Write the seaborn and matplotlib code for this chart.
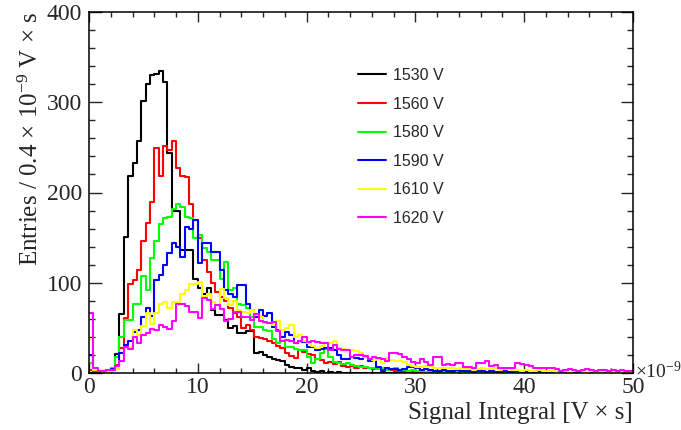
import pandas as pd
import matplotlib
matplotlib.use("Agg")
import matplotlib.pyplot as plt
from matplotlib.lines import Line2D
from matplotlib.ticker import MultipleLocator
import seaborn as sns

# Signal integral histograms for several PMT voltages
# bins of 0.4 (x 1e-9 V s) from 0 to 50
bin_width = 0.4
n_bins = 125

labels = ["1530 V", "1560 V", "1580 V", "1590 V", "1610 V", "1620 V"]
colors = ["#000000", "#ff0000", "#00ff00", "#0000ff", "#ffff00", "#ff00ff"]

counts_1530 = [
    0, 1, 1, 0, 1, 3, 21, 65, 151, 218,
    233, 257, 301, 320, 330, 331, 335, 322, 244, 180,
    180, 136, 136, 136, 104, 94, 88, 94, 70, 64,
    64, 59, 50, 52, 44, 44, 46, 47, 22, 23,
    20, 18, 15, 14, 13, 9, 7, 5, 6, 3,
    5, 2, 1, 2, 0, 1, 0, 1, 0, 0,
    0, 0, 0, 0, 0, 0, 0, 0, 0, 0,
    0, 0, 0, 0, 0, 0, 0, 0, 0, 0,
    0, 0, 0, 0, 0, 0, 0, 0, 0, 0,
    0, 0, 0, 0, 0, 0, 0, 0, 0, 0,
    0, 0, 0, 0, 0, 0, 0, 0, 0, 0,
    0, 0, 0, 0, 0, 0, 0, 0, 0, 0,
    0, 0, 0, 0, 0,
]
counts_1560 = [
    3, 2, 1, 1, 2, 3, 9, 28, 61, 99,
    103, 114, 146, 166, 189, 249, 218, 252, 247, 257,
    227, 218, 217, 187, 170, 150, 125, 112, 100, 90,
    84, 80, 72, 66, 62, 50, 53, 48, 40, 39,
    38, 35, 33, 30, 28, 22, 19, 17, 25, 23,
    21, 20, 15, 14, 11, 12, 10, 12, 8, 7,
    8, 6, 8, 5, 6, 4, 5, 3, 4, 3,
    2, 2, 1, 2, 1, 1, 0, 1, 1, 0,
    1, 0, 0, 1, 0, 0, 0, 0, 1, 0,
    0, 0, 0, 0, 0, 0, 0, 0, 0, 0,
    0, 0, 0, 0, 0, 0, 0, 0, 0, 0,
    0, 0, 0, 0, 0, 0, 0, 0, 0, 0,
    0, 0, 0, 0, 0,
]
counts_1580 = [
    11, 3, 2, 2, 3, 5, 18, 40, 59, 59,
    77, 77, 107, 92, 127, 146, 165, 172, 173, 182,
    187, 184, 173, 172, 150, 153, 139, 134, 125, 125,
    104, 123, 92, 94, 77, 75, 72, 62, 51, 51,
    48, 46, 38, 33, 35, 29, 29, 27, 26, 25,
    18, 11, 15, 22, 27, 18, 12, 11, 10, 11,
    9, 8, 7, 7, 6, 5, 4, 5, 3, 4,
    5, 3, 3, 2, 3, 2, 2, 1, 2, 1,
    2, 1, 1, 2, 1, 1, 1, 0, 1, 1,
    1, 0, 1, 0, 1, 0, 0, 1, 0, 0,
    0, 0, 1, 0, 0, 0, 0, 0, 0, 0,
    0, 0, 0, 0, 0, 0, 0, 0, 0, 0,
    0, 0, 0, 0, 0,
]
counts_1590 = [
    20, 3, 2, 2, 3, 4, 8, 22, 31, 36,
    45, 48, 62, 72, 63, 103, 109, 120, 133, 144,
    140, 129, 162, 160, 169, 122, 144, 144, 134, 134,
    114, 92, 88, 84, 97, 97, 77, 70, 62, 70,
    63, 66, 51, 48, 40, 45, 42, 33, 35, 34,
    29, 29, 26, 27, 28, 28, 25, 20, 15, 15,
    18, 17, 15, 18, 13, 14, 7, 2, 5, 4,
    4, 3, 4, 7, 7, 6, 3, 4, 3, 2,
    2, 3, 2, 2, 3, 2, 2, 2, 1, 2,
    2, 1, 2, 1, 1, 2, 1, 1, 2, 1,
    1, 1, 0, 1, 1, 0, 1, 0, 1, 0,
    1, 0, 0, 1, 0, 0, 1, 0, 0, 0,
    0, 1, 0, 0, 0,
]
counts_1610 = [
    38, 3, 2, 1, 1, 2, 4, 13, 29, 29,
    48, 42, 52, 66, 54, 66, 77, 79, 72, 79,
    79, 88, 92, 99, 99, 101, 84, 88, 79, 75,
    93, 83, 75, 80, 70, 68, 66, 70, 64, 62,
    55, 55, 53, 58, 48, 50, 53, 40, 42, 36,
    33, 30, 28, 30, 33, 33, 35, 28, 27, 26,
    25, 24, 22, 18, 16, 14, 15, 11, 17, 14,
    13, 13, 12, 9, 8, 7, 7, 8, 8, 6,
    5, 5, 5, 5, 4, 5, 4, 4, 3, 4,
    5, 4, 4, 5, 3, 4, 4, 3, 3, 2,
    3, 2, 2, 3, 2, 2, 2, 1, 2, 2,
    1, 2, 2, 1, 1, 2, 1, 1, 2, 1,
    1, 1, 1, 1, 1,
]
counts_1620 = [
    66, 5, 2, 2, 3, 3, 8, 13, 29, 27,
    40, 33, 42, 44, 49, 48, 53, 51, 49, 58,
    77, 77, 74, 68, 68, 61, 83, 81, 71, 75,
    71, 58, 60, 68, 68, 62, 62, 59, 65, 58,
    57, 55, 56, 46, 36, 37, 36, 33, 35, 40,
    34, 36, 34, 33, 33, 26, 31, 27, 25, 25,
    18, 20, 20, 19, 16, 18, 17, 16, 13, 22,
    22, 21, 18, 15, 12, 11, 15, 12, 9, 18,
    18, 9, 10, 9, 11, 11, 7, 7, 6, 11,
    11, 13, 8, 9, 6, 5, 5, 5, 11, 10,
    9, 8, 6, 6, 5, 5, 6, 4, 2, 3,
    4, 3, 2, 3, 4, 3, 2, 3, 3, 2,
    3, 2, 3, 2, 2,
]

series = [counts_1530, counts_1560, counts_1580, counts_1590, counts_1610, counts_1620]

edges = [round(i * bin_width, 1) for i in range(n_bins + 1)]
centers = [e + bin_width / 2 for e in edges[:-1]]

sns.set_style("ticks")
plt.rcParams["font.family"] = ["Liberation Serif", "DejaVu Serif"]
plt.rcParams["mathtext.fontset"] = "custom"
plt.rcParams["mathtext.rm"] = "Liberation Serif"
plt.rcParams["mathtext.it"] = "Liberation Serif:italic"

fig = plt.figure(figsize=(6.81, 4.30), dpi=100)
ax = fig.add_axes([89 / 681, 1 - 373 / 430, 544 / 681, 361 / 430])

for counts, col in zip(series, colors):
    df = pd.DataFrame({"x": centers, "w": counts})
    sns.histplot(data=df, x="x", weights="w", bins=edges, element="step",
                 fill=False, color=col, linewidth=1.5, ax=ax)

ax.set_xlim(0, 50)
ax.set_ylim(0, 400)
ax.xaxis.set_major_locator(MultipleLocator(10))
ax.xaxis.set_minor_locator(MultipleLocator(2))
ax.yaxis.set_major_locator(MultipleLocator(100))
ax.yaxis.set_minor_locator(MultipleLocator(20))
ax.tick_params(axis="both", which="both", direction="in", top=True, right=True,
               width=1, labelsize=17)
ax.tick_params(axis="y", which="major", length=9, pad=5)
ax.tick_params(axis="y", which="minor", length=4.5)
ax.tick_params(axis="x", which="major", length=7, pad=3)
ax.tick_params(axis="x", which="minor", length=3.5)
for sp in ax.spines.values():
    sp.set_linewidth(1.1)
    sp.set_color("black")

ax.set_xlabel("Signal Integral [V × s]", loc="right", fontsize=18, labelpad=3)
ax.set_ylabel("Entries / 0.4 × 10$^{-9}$ V × s", loc="top", fontsize=18,
              labelpad=3)
ax.text(1.004, 0.005, "×10$^{-9}$", transform=ax.transAxes, ha="left",
        va="center", fontsize=14)

handles = [Line2D([0], [0], color=c, lw=1.5) for c in colors]
ax.legend(handles, labels, loc="upper left", bbox_to_anchor=(0.48, 0.867),
          frameon=False, prop={"family": "Liberation Sans", "size": 11.5},
          handlelength=1.75, handletextpad=0.45, labelspacing=0.85, borderpad=0)

fig.savefig("out.png", dpi=100)
